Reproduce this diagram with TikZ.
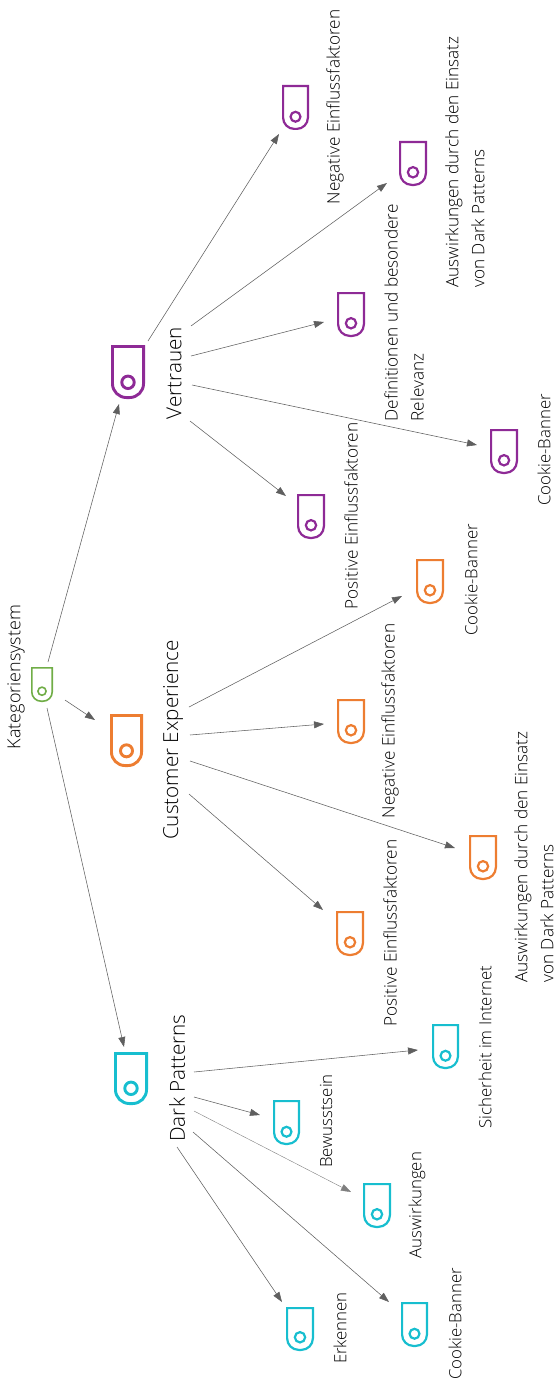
\documentclass[tikz,border=0pt]{standalone}
\usepackage{fontspec}
\setmainfont{Open Sans Light}
\usetikzlibrary{arrows.meta}
\definecolor{cgreen}{HTML}{70AD47}
\definecolor{corange}{HTML}{ED7D31}
\definecolor{cpurple}{HTML}{8E2A96}
\definecolor{cteal}{HTML}{17BECF}
\definecolor{cline}{HTML}{5F5F5F}
\tikzset{
  conn/.style={draw=cline,line width=0.55pt,-{Triangle[length=10pt,width=7pt]}},
  connthin/.style={conn,line width=0.4pt,draw=cline!80},
  big/.style={rotate=90,inner sep=0pt,font=\fontsize{20.7}{24}\selectfont,text=black},
  small/.style={rotate=90,inner sep=0pt,font=\fontsize{17.2}{26}\selectfont,text=black,align=left},
  short/.style={small,font=\fontsize{16.8}{26}\selectfont},
}
% \tagicon{name}{colour}{left}{top}{right}{bottom}{line width}
\newcommand{\tagicon}[7]{%
  \pgfmathsetmacro{\tgl}{#3+#7/2}\pgfmathsetmacro{\tgr}{#5-#7/2}
  \pgfmathsetmacro{\tgt}{#4+#7/2}\pgfmathsetmacro{\tgb}{#6-#7/2}
  \pgfmathsetmacro{\tgw}{\tgr-\tgl}\pgfmathsetmacro{\tgrad}{\tgw*0.45}
  \pgfmathsetmacro{\tgcx}{(\tgl+\tgr)/2}\pgfmathsetmacro{\tgcy}{\tgb-\tgw*0.49}
  \pgfmathsetmacro{\tgd}{\tgw*0.40}
  \draw[#2,line width=#7pt,line join=miter]
    (\tgl,\tgt) -- (\tgr,\tgt) -- (\tgr,\tgb-\tgrad) arc[start angle=0,end angle=-90,radius=\tgrad pt] -- (\tgl+\tgrad,\tgb) arc[start angle=-90,end angle=-180,radius=\tgrad pt] -- cycle;
  \node[draw=#2,line width=#7pt,circle,inner sep=0pt,minimum size=\tgd pt] (#1) at (\tgcx,\tgcy) {};
}
\begin{document}
\begin{tikzpicture}[x=1pt,y=-1pt]
\useasboundingbox (0,0) rectangle (555,1386);
% icons
\tagicon{root}{cgreen}{31}{667}{53}{702}{1.6}
\tagicon{ce}{corange}{110}{714}{143}{767}{2.9}
\tagicon{vt}{cpurple}{111}{345}{145}{399}{2.9}
\tagicon{dp}{cteal}{114}{1052}{148}{1105}{2.9}
\tagicon{vneg}{cpurple}{282}{85}{309}{130}{2.2}
\tagicon{vaus}{cpurple}{399}{141}{427}{186}{2.2}
\tagicon{vdef}{cpurple}{337}{292}{365}{337}{2.2}
\tagicon{vcook}{cpurple}{490}{429}{518}{474}{2.2}
\tagicon{vpos}{cpurple}{297}{494}{325}{539}{2.2}
\tagicon{ccook}{corange}{416}{559}{444}{604}{2.2}
\tagicon{cneg}{corange}{337}{699}{365}{744}{2.2}
\tagicon{caus}{corange}{469}{835}{497}{880}{2.2}
\tagicon{cpos}{corange}{336}{911}{364}{956}{2.2}
\tagicon{dsich}{cteal}{432}{1024}{459}{1069}{2.2}
\tagicon{dbew}{cteal}{273}{1100}{300}{1145}{2.2}
\tagicon{daus}{cteal}{363}{1183}{391}{1228}{2.2}
\tagicon{dcook}{cteal}{401}{1302}{428}{1347}{2.2}
\tagicon{derk}{cteal}{286}{1307}{314}{1351}{2.2}
% labels
\node[rotate=90,inner sep=0pt,font=\fontsize{18}{22}\selectfont,text=black] (lroot) at (16,677) {Kategoriensystem};
\node[big] (lce) at (173,740) {Customer Experience};
\node[big] (lvt) at (174,373) {Vertrauen};
\node[big] (ldp) at (177,1078) {Dark Patterns};
\node[small] (lvneg) at (335,107) {Negative Einflussfaktoren};
\node[small] (lvaus) at (465,162) {Auswirkungen durch den Einsatz\\von Dark Patterns};
\node[small] (lvdef) at (404,313) {Definitionen und besondere\\Relevanz};
\node[short] (lvcook) at (544,450) {Cookie-Banner};
\node[small] (lvpos) at (351,516) {Positive Einflussfaktoren};
\node[short] (lccook) at (471,580) {Cookie-Banner};
\node[small] (lcneg) at (390,721) {Negative Einflussfaktoren};
\node[small] (lcaus) at (534,857) {Auswirkungen durch den Einsatz\\von Dark Patterns};
\node[small] (lcpos) at (390,933) {Positive Einflussfaktoren};
\node[short] (ldsich) at (485,1047) {Sicherheit im Internet};
\node[short] (ldbew) at (326,1121) {Bewusstsein};
\node[short] (ldaus) at (417,1205) {Auswirkungen};
\node[short] (ldcook) at (455,1324) {Cookie-Banner};
\node[short] (lderk) at (340,1328) {Erkennen};
% connector ends
\coordinate (a1) at (48,662); \coordinate (b1) at (119,404);
\coordinate (a2) at (65,700); \coordinate (b2) at (95,720);
\coordinate (a3) at (47,708); \coordinate (b3) at (124,1047);
\coordinate (a4) at (148,341); \coordinate (b4) at (279,134);
\coordinate (a5) at (191,326); \coordinate (b5) at (387,183);
\coordinate (a6) at (191,356); \coordinate (b6) at (324,322);
\coordinate (a7) at (192,385); \coordinate (b7) at (477,445);
\coordinate (a8) at (190,421); \coordinate (b8) at (286,496);
\coordinate (a9) at (189,707); \coordinate (b9) at (402,596);
\coordinate (a10) at (190,735); \coordinate (b10) at (324,724);
\coordinate (a11) at (190,761); \coordinate (b11) at (455,848);
\coordinate (a12) at (189,794); \coordinate (b12) at (323,910);
\coordinate (a13) at (194,1072); \coordinate (b13) at (418,1050);
\coordinate (a14) at (194,1097); \coordinate (b14) at (260,1115);
\coordinate (a16) at (193,1132); \coordinate (b16) at (389,1302);
\coordinate (a17) at (177,1147); \coordinate (b17) at (282,1302);
\coordinate (a15) at (194,1111); \coordinate (b15) at (351,1192);
\foreach \i in {1,...,14,16,17} {\draw[conn] (a\i) -- (b\i);}
\draw[connthin] (a15) -- (b15);
\end{tikzpicture}
\end{document}
